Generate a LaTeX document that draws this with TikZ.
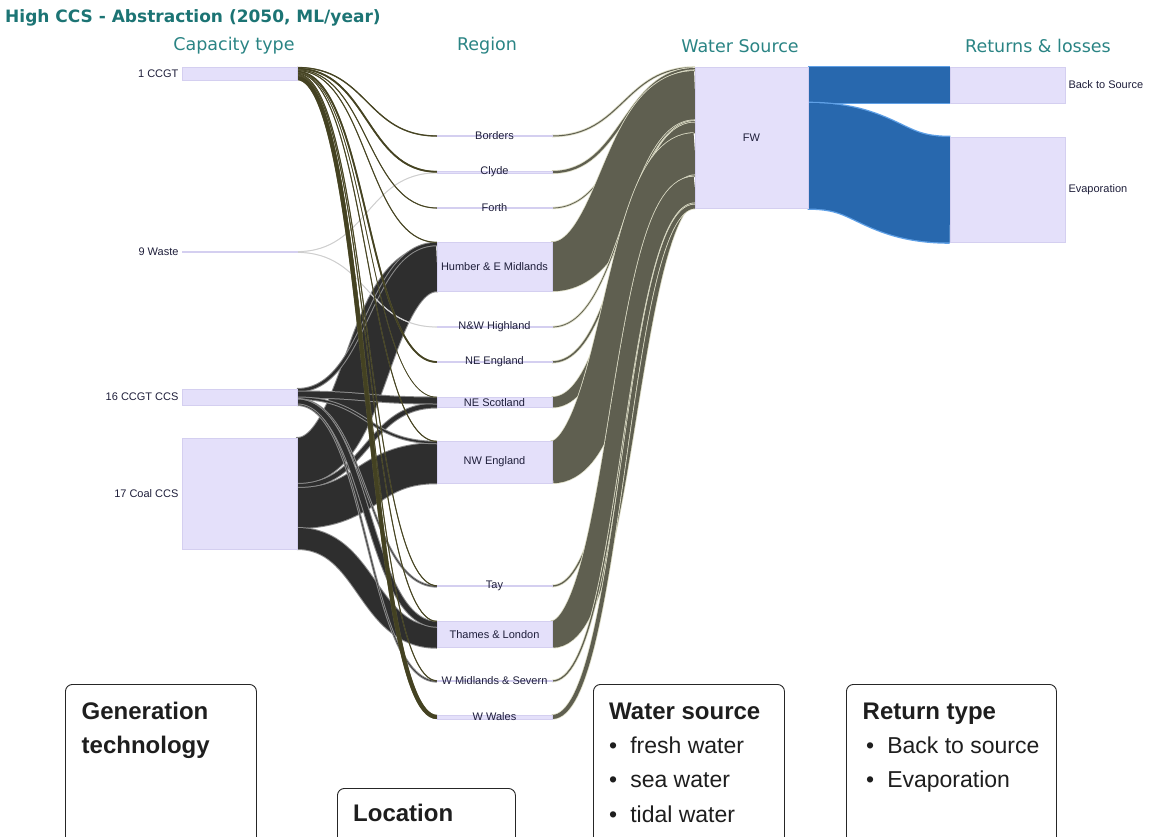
\documentclass[tikz,border=0pt]{standalone}
\usepackage{fontspec}
\setmainfont{Liberation Sans}
\newfontfamily\headfont{DejaVu Sans}
\usepackage{tikz}

\definecolor{titleteal}{RGB}{28,116,116}
\definecolor{headteal}{RGB}{42,132,132}
\definecolor{nodefill}{RGB}{228,224,250}
\definecolor{nodeedge}{RGB}{212,207,240}
\definecolor{labtext}{RGB}{30,30,58}
\definecolor{legtext}{RGB}{30,30,30}
\definecolor{ccband}{RGB}{46,46,46}
\definecolor{ccedge}{RGB}{140,140,140}
\definecolor{oliveband}{RGB}{68,66,34}
\definecolor{oliveedge}{RGB}{100,98,64}
\definecolor{wasteband}{RGB}{205,205,205}
\definecolor{wasteedge}{RGB}{228,228,228}
\definecolor{fwband}{RGB}{95,95,80}
\definecolor{fwedge}{RGB}{222,222,200}
\definecolor{blueband}{RGB}{40,104,174}
\definecolor{blueedge}{RGB}{95,160,230}

\pgfdeclarelayer{flows}
\pgfsetlayers{flows,main}

\tikzset{
  rbox/.style={draw=nodeedge, fill=nodefill, line width=0.6pt, inner sep=0pt, outer sep=0pt,
    anchor=north west, minimum width=115pt},
  lab/.style={font=\fontsize{11}{13}\selectfont, text=labtext},
  head/.style={font=\headfont\fontsize{17.5}{21}\selectfont, text=headteal, inner sep=0pt},
  legbox/.style={draw=black!85, line width=0.9pt, rounded corners=7pt, fill=white,
    anchor=north west, inner sep=0pt},
  legtitle/.style={font=\bfseries\fontsize{24}{28}\selectfont, text=legtext, anchor=base west, inner sep=0pt},
  legitem/.style={font=\fontsize{23}{27}\selectfont, text=legtext, anchor=base west, inner sep=0pt},
  cc band/.style={draw=ccband}, cc edge/.style={draw=ccedge},
  olive band/.style={draw=oliveband}, olive edge/.style={draw=oliveedge},
  waste band/.style={draw=wasteband}, waste edge/.style={draw=wasteedge},
  fw band/.style={draw=fwband}, fw edge/.style={draw=fwedge},
  blue band/.style={draw=blueband}, blue edge/.style={draw=blueedge}
}

\newcommand{\ccextra}{2pt}
\newcommand{\oliveextra}{0.3pt}
\newcommand{\wasteextra}{0.3pt}
\newcommand{\fwextra}{1.6pt}
\newcommand{\blueextra}{2.6pt}

\newcommand{\linkflow}[6]{%
  \draw[#1 edge, line width=#6pt+\csname #1extra\endcsname] ([yshift=-#3pt]#2.north east) .. controls +(71,0) and +(-71,0) .. ([yshift=-#5pt]#4.north west);
  \draw[#1 band, line width=#6pt] ([yshift=-#3pt]#2.north east) .. controls +(71,0) and +(-71,0) .. ([yshift=-#5pt]#4.north west);
}

\begin{document}
\begin{tikzpicture}[x=1pt,y=-1pt]
  \useasboundingbox (0,0) rectangle (1151,836);
  \clip (0,0) rectangle (1151,836);

  \node[font=\headfont\bfseries\fontsize{17}{20}\selectfont, text=titleteal, anchor=west, inner sep=0pt] (title) at (5,18) {High CCS - Abstraction (2050, ML/year)};
  \node[head] (hcap) at (234,46) {Capacity type};
  \node[head] (hreg) at (487,46) {Region};
  \node[head] (hsrc) at (740,46) {Water Source};
  \node[head] (hret) at (1038,46) {Returns \& losses};

  \node[rbox, minimum height=13pt, label={[lab]left:1 CCGT}] (ccgt) at (182,67) {};
  \node[rbox, minimum height=1.5pt, label={[lab]left:9 Waste}] (waste) at (182,251.25) {};
  \node[rbox, minimum height=16pt, label={[lab]left:16 CCGT CCS}] (ccs) at (182,389) {};
  \node[rbox, minimum height=111pt, label={[lab]left:17 Coal CCS}] (coal) at (182,438) {};

  \node[rbox, minimum height=1pt, label={[lab]center:Borders}] (borders) at (437,135.5) {};
  \node[rbox, minimum height=2.25pt, label={[lab]center:Clyde}] (clyde) at (437,171) {};
  \node[rbox, minimum height=0.75pt, label={[lab]center:Forth}] (forth) at (437,207.625) {};
  \node[rbox, minimum height=49.25pt, label={[lab]center:Humber \& E Midlands}] (humber) at (437,242) {};
  \node[rbox, minimum height=0.75pt, label={[lab]center:N\&W Highland}] (nwhigh) at (437,326.625) {};
  \node[rbox, minimum height=1.5pt, label={[lab]center:NE England}] (neeng) at (437,361.25) {};
  \node[rbox, minimum height=10.5pt, label={[lab]center:NE Scotland}] (nescot) at (437,397) {};
  \node[rbox, minimum height=42.25pt, label={[lab]center:NW England}] (nweng) at (437,441) {};
  \node[rbox, minimum height=1.25pt, label={[lab]center:Tay}] (tay) at (437,585.375) {};
  \node[rbox, minimum height=26.75pt, label={[lab]center:Thames \& London}] (thames) at (437,621) {};
  \node[rbox, minimum height=1.25pt, label={[lab]center:W Midlands \& Severn}] (wmid) at (437,680.375) {};
  \node[rbox, minimum height=4pt, label={[lab]center:W Wales}] (wwales) at (437,715) {};

  \node[rbox, minimum width=113pt, minimum height=141.5pt, label={[lab]center:FW}] (fw) at (695,67) {};

  \node[rbox, minimum height=36pt, label={[lab]right:Back to Source}] (bts) at (950,67) {};
  \node[rbox, minimum height=105.5pt, label={[lab]right:Evaporation}] (evap) at (950,137) {};

  \begin{pgfonlayer}{flows}
    \linkflow{cc}{coal}{23}{humber}{26.25}{46}
    \linkflow{cc}{coal}{48}{nescot}{8.5}{4}
    \linkflow{cc}{coal}{70}{nweng}{22.25}{40}
    \linkflow{cc}{coal}{100.5}{thames}{16.25}{21}

    \linkflow{cc}{ccs}{1.25}{humber}{2}{2.5}
    \linkflow{cc}{ccs}{5.5}{nescot}{3.5}{6}
    \linkflow{cc}{ccs}{9.25}{nweng}{1.5}{1.5}
    \linkflow{cc}{ccs}{10.25}{tay}{1}{0.5}
    \linkflow{cc}{ccs}{13}{thames}{3.25}{5}
    \linkflow{cc}{ccs}{15.75}{wmid}{1}{0.5}

    \linkflow{waste}{waste}{0.375}{clyde}{1.875}{0.75}
    \linkflow{waste}{waste}{1.125}{nwhigh}{0.375}{0.75}

    \linkflow{olive}{ccgt}{0.5}{borders}{0.5}{1}
    \linkflow{olive}{ccgt}{1.75}{clyde}{0.75}{1.5}
    \linkflow{olive}{ccgt}{2.875}{forth}{0.375}{0.75}
    \linkflow{olive}{ccgt}{3.625}{humber}{0.375}{0.75}
    \linkflow{olive}{ccgt}{4.75}{neeng}{0.75}{1.5}
    \linkflow{olive}{ccgt}{5.75}{nescot}{0.25}{0.5}
    \linkflow{olive}{ccgt}{6.375}{nweng}{0.375}{0.75}
    \linkflow{olive}{ccgt}{7.125}{tay}{0.375}{0.75}
    \linkflow{olive}{ccgt}{7.875}{thames}{0.375}{0.75}
    \linkflow{olive}{ccgt}{8.625}{wmid}{0.375}{0.75}
    \linkflow{olive}{ccgt}{11}{wwales}{2}{4}

    \linkflow{fw}{borders}{0.5}{fw}{0.5}{1}
    \linkflow{fw}{clyde}{1.125}{fw}{2.125}{2.25}
    \linkflow{fw}{forth}{0.375}{fw}{3.625}{0.75}
    \linkflow{fw}{humber}{24.625}{fw}{28.625}{49.25}
    \linkflow{fw}{nwhigh}{0.375}{fw}{53.625}{0.75}
    \linkflow{fw}{neeng}{0.75}{fw}{54.75}{1.5}
    \linkflow{fw}{nescot}{5.25}{fw}{60.75}{10.5}
    \linkflow{fw}{nweng}{21.125}{fw}{87.125}{42.25}
    \linkflow{fw}{tay}{0.625}{fw}{108.875}{1.25}
    \linkflow{fw}{thames}{13.375}{fw}{122.875}{26.75}
    \linkflow{fw}{wmid}{0.625}{fw}{136.875}{1.25}
    \linkflow{fw}{wwales}{2}{fw}{139.5}{4}

    \linkflow{blue}{fw}{18}{bts}{18}{36}
    \linkflow{blue}{fw}{88.75}{evap}{52.75}{105.5}
  \end{pgfonlayer}

  \node[legbox, minimum width=191pt, minimum height=180pt] (genbox) at (65,684) {};
  \node[legbox, minimum width=178pt, minimum height=80pt] (locbox) at (337,788) {};
  \node[legbox, minimum width=191pt, minimum height=180pt] (srcbox) at (593,684) {};
  \node[legbox, minimum width=210pt, minimum height=180pt] (retbox) at (846,684) {};

  \node[legtitle] (gen1) at (81.5,719) {Generation};
  \node[legtitle] (gen2) at (81.5,753) {technology};
  \node[legtitle] (loc) at (353,821) {Location};
  \node[legtitle] (src) at (609,719) {Water source};
  \node[legitem] (src1) at (609,753) {\textbullet\hspace{13pt}fresh water};
  \node[legitem] (src2) at (609,787.5) {\textbullet\hspace{13pt}sea water};
  \node[legitem] (src3) at (609,822) {\textbullet\hspace{13pt}tidal water};
  \node[legtitle] (ret) at (862.5,719) {Return type};
  \node[legitem] (ret1) at (866,753) {\textbullet\hspace{13pt}Back to source};
  \node[legitem] (ret2) at (866,787.5) {\textbullet\hspace{13pt}Evaporation};
\end{tikzpicture}
\end{document}
